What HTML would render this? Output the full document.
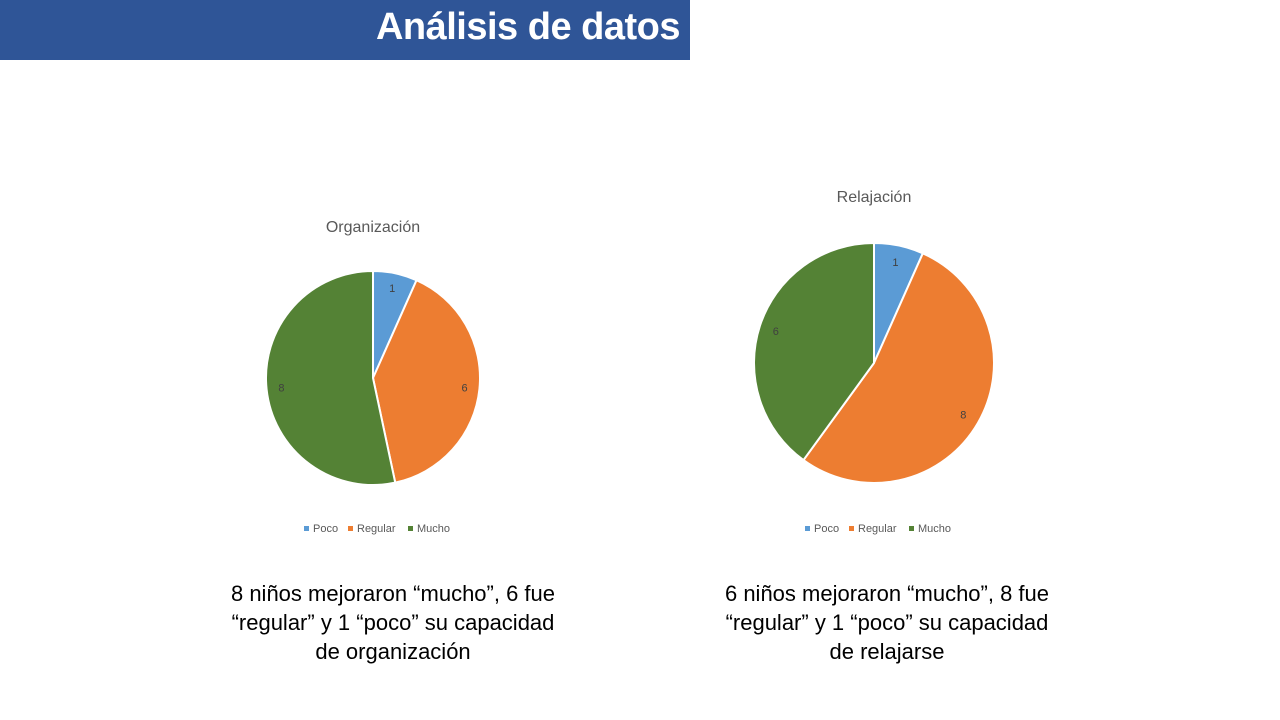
<!DOCTYPE html>
<html><head><meta charset="utf-8"><style>
body{margin:0;width:1280px;height:720px;background:#fff;overflow:hidden;position:relative;font-family:"Liberation Sans",sans-serif}
#bar{position:absolute;left:0;top:0;width:690px;height:60px;background:#2F5597}
#title{position:absolute;right:10px;top:6px;color:#fff;font-weight:bold;font-size:38px;font-family:"Liberation Sans",sans-serif;letter-spacing:-0.5px}
.desc{position:absolute;width:400px;text-align:center;font-size:22px;line-height:29px;color:#000;white-space:nowrap}
svg{position:absolute;left:0;top:0}
</style></head><body>
<div id="bar"><div id="title">Análisis de datos</div></div>
<svg id="chart" width="1280" height="720"></svg>
<div class="desc" style="left:193px;top:579px">8 niños mejoraron “mucho”, 6 fue<br>“regular” y 1 “poco” su capacidad<br>de organización</div>
<div class="desc" style="left:687px;top:579px">6 niños mejoraron “mucho”, 8 fue<br>“regular” y 1 “poco” su capacidad<br>de relajarse</div>
<script>
const categories=["Poco","Regular","Mucho"];
const orgValues=[1,6,8];
const relValues=[1,8,6];
const colors=["#5B9BD5","#ED7D31","#548235"];
const NS="http://www.w3.org/2000/svg";
const svg=document.getElementById('chart');
function mk(t,a){const e=document.createElementNS(NS,t);for(const k in a)e.setAttribute(k,a[k]);return e;}
function pie(name,title,vals,cx,cy,r,ty,ly){
  const tt=mk('text',{x:cx,y:ty,'text-anchor':'middle','font-size':16,fill:'#595959','font-family':'Liberation Sans, sans-serif'});
  tt.textContent=title;
  
  
  svg.appendChild(tt);
  const tot=vals.reduce((a,b)=>a+b,0);let a0=0;
  vals.forEach((v,i)=>{
    const a1=a0+v/tot*2*Math.PI;
    const x0=cx+r*Math.sin(a0),y0=cy-r*Math.cos(a0),x1=cx+r*Math.sin(a1),y1=cy-r*Math.cos(a1);
    const p=mk('path',{d:`M${cx},${cy}L${x0},${y0}A${r},${r} 0 ${a1-a0>Math.PI?1:0} 1 ${x1},${y1}Z`,fill:colors[i],stroke:'#fff','stroke-width':2});
    
    
    svg.appendChild(p);
    const am=(a0+a1)/2;
    const l=mk('text',{x:cx+0.86*r*Math.sin(am),y:cy-0.86*r*Math.cos(am)+4,'text-anchor':'middle','font-size':11,fill:'#404040','font-family':'Liberation Sans, sans-serif'});
    l.textContent=v;
    
    
    svg.appendChild(l);
    a0=a1;
  });
  let x=cx-69;
  const w=[44,60,50];
  categories.forEach((c,i)=>{
    const g=mk('g',{});
    
    
    g.appendChild(mk('rect',{x:x,y:ly-6,width:5,height:5,fill:colors[i]}));
    const t=mk('text',{x:x+9,y:ly,'font-size':11,fill:'#595959','font-family':'Liberation Sans, sans-serif'});
    t.textContent=c;g.appendChild(t);svg.appendChild(g);
    x+=w[i];
  });
}
pie('organizacion','Organización',orgValues,373,378,107,232,532);
pie('relajacion','Relajación',relValues,874,363,120,202,532);
</script>
</body></html>
